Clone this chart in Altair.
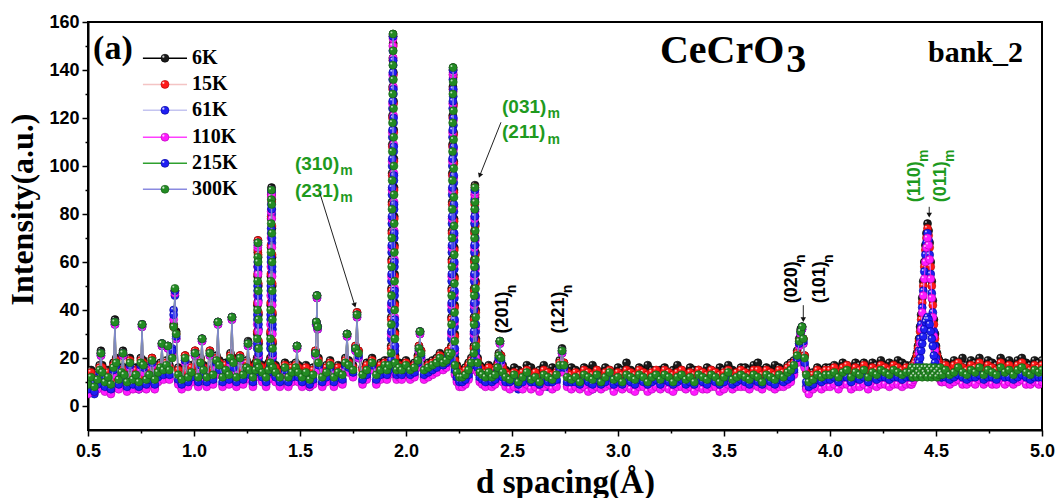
import altair as alt
import pandas as pd

# ---------------- data ----------------
D = [
    0.500, 0.515, 0.530, 0.545, 0.555, 0.561, 0.567, 0.580, 0.595, 0.608, 0.620, 0.627, 0.633, 0.645, 0.658, 0.665, 0.671, 0.684, 0.698,
    0.712, 0.726, 0.740, 0.749, 0.755, 0.761, 0.775, 0.789, 0.802, 0.815, 0.830, 0.842, 0.849, 0.856, 0.870, 0.877, 0.884, 0.897, 0.904, 0.910, 0.916, 0.926, 0.942, 0.958,
    0.972, 0.988, 1.005, 1.020, 1.031, 1.038, 1.045, 1.060, 1.075, 1.090, 1.106, 1.113, 1.120, 1.135, 1.150, 1.165, 1.172, 1.179, 1.186, 1.200, 1.217, 1.232, 1.248, 1.255, 1.262,
    1.278, 1.290,
    1.2976, 1.2984, 1.2992, 1.3000, 1.3008, 1.3016, 1.3024, 1.3032, 1.3040, 1.3048, 1.3056,
    1.322, 1.340, 1.352,
    1.3602, 1.3610, 1.3618, 1.3626, 1.3634, 1.3642, 1.3650, 1.3658, 1.3666, 1.3674, 1.3682, 1.3690, 1.3698, 1.3706, 1.3714,
    1.385, 1.405, 1.429, 1.445, 1.462, 1.480, 1.486, 1.492,
    1.510, 1.528, 1.546, 1.562, 1.573, 1.577, 1.580, 1.583, 1.587, 1.605, 1.625, 1.642, 1.660, 1.680, 1.700, 1.714, 1.722, 1.730, 1.750, 1.762, 1.769, 1.776, 1.795, 1.815, 1.840, 1.860, 1.880, 1.900,
    1.910, 1.920,
    1.9300, 1.9308, 1.9316, 1.9324, 1.9332, 1.9340, 1.9348, 1.9356, 1.9364, 1.9372, 1.9380, 1.9388,
    1.9396, 1.9404, 1.9412, 1.9420, 1.9428, 1.9436, 1.9444, 1.9452, 1.9460, 1.9468, 1.9476, 1.9484,
    1.956, 1.968, 1.980, 2.000, 2.020, 2.040, 2.056, 2.061, 2.066, 2.071, 2.085, 2.105, 2.125, 2.145, 2.160, 2.175, 2.190, 2.200,
    2.206,
    2.2140, 2.2148, 2.2156, 2.2164, 2.2172, 2.2180, 2.2188, 2.2196, 2.2204, 2.2212, 2.2220,
    2.2228, 2.2236, 2.2244, 2.2252, 2.2260, 2.2268, 2.2276, 2.2284, 2.2292, 2.2300, 2.2308,
    2.240, 2.252, 2.265, 2.280, 2.295, 2.308,
    2.3202, 2.3210, 2.3218, 2.3226, 2.3234, 2.3242, 2.3250,
    2.3258, 2.3266, 2.3274, 2.3282, 2.3290, 2.3298,
    2.338, 2.348, 2.360, 2.375, 2.390, 2.405, 2.420, 2.432, 2.438, 2.443, 2.448, 2.456, 2.470,
    2.490, 2.510, 2.530, 2.550, 2.570, 2.590, 2.610, 2.630, 2.650, 2.670, 2.690, 2.710, 2.725, 2.736, 2.745, 2.760, 2.780,
    2.80, 2.82, 2.84, 2.86, 2.88, 2.90, 2.92, 2.94, 2.96, 2.98, 3.00, 3.02, 3.04, 3.06, 3.08, 3.10, 3.12, 3.14, 3.16, 3.18,
    3.20, 3.22, 3.24, 3.26, 3.28, 3.30, 3.32, 3.34, 3.36, 3.38, 3.40, 3.42, 3.44, 3.46, 3.48, 3.50, 3.52, 3.54, 3.56, 3.58,
    3.60, 3.62, 3.64, 3.66, 3.68, 3.70, 3.72, 3.74, 3.76, 3.78,
    3.800, 3.815, 3.830, 3.845, 3.855, 3.862, 3.868, 3.874, 3.880, 3.888, 3.900, 3.920, 3.940, 3.960, 3.980,
    4.00, 4.02, 4.04, 4.06, 4.08, 4.10, 4.12, 4.14, 4.16, 4.18, 4.20, 4.22, 4.24, 4.26, 4.28, 4.30, 4.32, 4.34, 4.36,
    4.380, 4.385, 4.390, 4.395, 4.400, 4.405, 4.410, 4.415, 4.420, 4.425, 4.430, 4.435, 4.440, 4.445, 4.450, 4.455,
    4.460, 4.465, 4.470, 4.475, 4.480, 4.485, 4.490, 4.495, 4.500, 4.505, 4.510, 4.515, 4.520, 4.525, 4.530,
    4.545, 4.565, 4.585, 4.605, 4.625, 4.645, 4.665, 4.685, 4.705, 4.725, 4.745, 4.765, 4.785, 4.805, 4.825, 4.845, 4.865, 4.885, 4.905, 4.925, 4.945, 4.965, 4.985, 5.000,
]

I_6K = [
    12, 15, 11, 14, 17, 23, 17, 13, 15, 12, 18, 36, 20, 14, 16, 23, 16, 13, 20,
    14, 16, 13, 20, 34, 19, 14, 16, 20, 14, 17, 18, 26, 17, 19, 25, 17, 22, 34, 48, 31, 16, 14, 21,
    15, 17, 23, 15, 20, 28, 17, 15, 23, 16, 21, 35, 19, 15, 18, 16, 22, 37, 20, 15, 21, 16, 19, 27, 17,
    15, 18,
    20, 30, 42, 54, 64, 69, 62, 50, 38, 26, 18,
    17, 15, 18,
    20, 30, 42, 54, 66, 78, 88, 91, 86, 74, 62, 50, 38, 26, 18,
    17, 15, 18, 15, 17, 18, 25, 17,
    15, 17, 14, 16, 23, 35, 46, 33, 20, 15, 17, 19, 15, 17, 16, 20, 30, 19, 17, 25, 39, 23, 16, 18, 20, 16, 18, 19,
    18, 19,
    25, 37, 49, 61, 73, 85, 97, 109, 121, 133, 145, 155,
    151, 139, 127, 115, 103, 91, 79, 67, 55, 43, 31, 21,
    18, 18, 17, 19, 17, 18, 21, 25, 31, 23, 17, 18, 19, 20, 22, 20, 21, 23,
    23,
    25, 37, 49, 61, 73, 85, 97, 109, 121, 133, 141,
    138, 126, 114, 102, 90, 78, 66, 54, 42, 30, 20,
    17, 15, 15, 16, 18, 20,
    25, 37, 49, 61, 73, 85, 92,
    88, 76, 64, 52, 40, 28,
    20, 17, 16, 15, 17, 15, 16, 18, 22, 27, 21, 17, 15,
    14, 16, 15, 13, 17, 16, 14, 15, 17, 14, 16, 15, 19, 24, 18, 15, 16,
    15, 14, 16, 15, 17, 15, 14, 16, 15, 14, 16, 15, 18, 15, 14, 16, 15, 17, 15, 14,
    15, 16, 14, 15, 17, 15, 14, 16, 15, 15, 14, 16, 15, 14, 16, 15, 17, 15, 14, 16,
    16, 15, 17, 18, 15, 16, 15, 17, 16, 15,
    17, 18, 19, 23, 28, 32, 33, 28, 21, 15, 13, 14, 16, 15, 16,
    16, 17, 16, 18, 17, 16, 18, 17, 18, 16, 18, 17, 19, 17, 18, 17, 19, 18, 17,
    16, 17, 17, 18, 19, 20, 22, 25, 28, 33, 38, 45, 52, 60, 67, 72,
    76, 73, 68, 60, 52, 44, 36, 30, 25, 22, 20, 19, 18, 17, 17,
    18, 17, 19, 18, 20, 17, 19, 18, 20, 17, 19, 18, 17, 20, 18, 19, 17, 19, 20, 18, 17, 19, 18, 19,
]

I_15K = [
    11, 14, 10, 13, 16, 22, 16, 12, 14, 11, 17, 35, 19, 13, 15, 22, 15, 12, 19,
    13, 15, 12, 19, 34, 18, 13, 15, 20, 13, 16, 17, 26, 16, 18, 25, 16, 21, 33, 48, 30, 15, 13, 21,
    14, 16, 23, 14, 19, 28, 16, 14, 23, 15, 20, 35, 18, 14, 17, 15, 21, 37, 19, 14, 21, 15, 18, 26, 16,
    14, 17,
    19, 31, 43, 55, 65, 69, 63, 51, 39, 27, 17,
    16, 14, 17,
    19, 31, 43, 55, 67, 79, 88, 90, 85, 75, 63, 51, 39, 27, 17,
    16, 14, 17, 14, 16, 17, 25, 16,
    14, 16, 13, 15, 23, 35, 46, 33, 19, 14, 16, 18, 14, 16, 15, 19, 30, 18, 16, 25, 39, 23, 15, 17, 19, 15, 17, 18,
    17, 18,
    24, 36, 48, 60, 72, 84, 96, 108, 120, 132, 144, 154,
    150, 138, 126, 114, 102, 90, 78, 66, 54, 42, 30, 20,
    17, 17, 16, 18, 16, 17, 20, 25, 31, 23, 16, 17, 18, 19, 21, 19, 20, 23,
    22,
    24, 36, 48, 60, 72, 84, 96, 108, 120, 132, 140,
    137, 125, 113, 101, 89, 77, 65, 53, 41, 29, 19,
    16, 14, 14, 15, 17, 19,
    24, 36, 48, 60, 72, 84, 91,
    87, 75, 63, 51, 39, 27,
    19, 16, 15, 14, 16, 14, 15, 17, 21, 27, 21, 16, 14,
    13, 14, 13, 14, 15, 13, 14, 12, 15, 14, 13, 14, 18, 23, 18, 14, 13,
    14, 13, 15, 14, 13, 15, 12, 14, 15, 13, 14, 13, 15, 14, 13, 15, 14, 13, 14, 15,
    13, 15, 14, 13, 14, 15, 13, 14, 13, 15, 14, 13, 15, 14, 13, 14, 15, 13, 14, 15,
    14, 13, 15, 15, 13, 15, 14, 13, 15, 14,
    16, 17, 18, 22, 27, 31, 33, 28, 21, 14, 12, 13, 15, 14, 15,
    15, 16, 14, 16, 17, 14, 16, 15, 17, 14, 16, 15, 17, 16, 15, 17, 16, 15, 16,
    15, 16, 16, 17, 18, 19, 21, 24, 27, 31, 36, 43, 50, 58, 65, 70,
    74, 71, 66, 58, 50, 42, 34, 28, 24, 21, 19, 18, 17, 16, 16,
    17, 15, 17, 18, 16, 15, 17, 16, 18, 15, 17, 16, 15, 18, 16, 17, 15, 17, 18, 16, 15, 17, 16, 17,
]

I_61K = [
    6, 9, 5, 8, 13, 21, 11, 7, 9, 6, 14, 34, 15, 8, 12, 21, 10, 7, 16,
    8, 10, 7, 16, 33, 15, 8, 10, 18, 8, 11, 14, 25, 12, 15, 24, 12, 24, 40, 46, 28, 10, 8, 19,
    9, 11, 21, 9, 16, 27, 12, 9, 21, 10, 17, 34, 14, 9, 12, 10, 18, 36, 15, 9, 19, 10, 13, 25, 12,
    9, 13,
    15, 24, 36, 48, 58, 67, 56, 44, 32, 20, 13,
    11, 9, 12,
    15, 24, 36, 48, 60, 72, 82, 89, 80, 68, 56, 44, 32, 20, 13,
    11, 9, 14, 9, 11, 14, 24, 11,
    9, 11, 8, 10, 21, 34, 45, 32, 16, 9, 11, 15, 9, 11, 10, 16, 29, 15, 13, 23, 37, 20, 10, 12, 16, 10, 12, 15,
    12, 14,
    28, 40, 52, 64, 76, 88, 100, 112, 124, 136, 148, 154,
    142, 130, 118, 106, 94, 82, 70, 58, 46, 34, 23, 15,
    12, 13, 12, 14, 12, 13, 17, 23, 30, 20, 12, 13, 14, 15, 18, 16, 17, 20,
    19,
    28, 40, 52, 64, 76, 88, 100, 112, 124, 136, 140,
    129, 117, 105, 93, 81, 69, 57, 45, 33, 22, 14,
    11, 9, 9, 10, 12, 16,
    28, 40, 52, 64, 76, 86, 90,
    79, 67, 55, 43, 31, 21,
    15, 11, 10, 9, 11, 9, 10, 14, 20, 26, 18, 11, 9,
    8, 9, 7, 9, 10, 8, 9, 7, 9, 8, 8, 10, 15, 22, 15, 9, 8,
    9, 8, 9, 8, 7, 9, 8, 9, 10, 7, 9, 8, 9, 8, 7, 9, 9, 7, 8, 9,
    8, 9, 8, 7, 9, 9, 8, 9, 7, 9, 8, 8, 9, 9, 7, 8, 10, 8, 9, 9,
    9, 8, 10, 9, 8, 10, 9, 8, 9, 9,
    10, 11, 14, 19, 26, 30, 32, 26, 17, 8, 6, 8, 9, 8, 9,
    9, 10, 8, 10, 10, 8, 9, 9, 10, 8, 10, 9, 10, 10, 9, 10, 10, 9, 10,
    10, 10, 11, 12, 13, 14, 16, 19, 23, 28, 34, 41, 48, 56, 63, 68,
    72, 69, 63, 55, 47, 39, 31, 25, 20, 16, 14, 13, 12, 11, 11,
    11, 10, 11, 12, 10, 10, 11, 10, 12, 10, 11, 10, 10, 12, 10, 11, 10, 11, 12, 10, 10, 11, 10, 11,
]

I_110K = [
    5, 8, 6, 7, 12, 21, 10, 6, 8, 5, 13, 34, 15, 7, 11, 21, 9, 6, 16,
    7, 9, 7, 15, 33, 14, 7, 9, 17, 7, 10, 13, 25, 11, 14, 24, 11, 22, 36, 47, 28, 9, 7, 18,
    8, 10, 21, 8, 15, 27, 11, 8, 21, 9, 16, 34, 13, 8, 11, 9, 17, 36, 14, 8, 19, 9, 12, 25, 11,
    8, 12,
    16, 34, 46, 58, 66, 67, 55, 43, 31, 21, 14,
    10, 8, 11,
    16, 34, 46, 58, 70, 81, 87, 88, 78, 66, 54, 42, 30, 21, 14,
    10, 8, 13, 8, 10, 13, 24, 10,
    8, 10, 8, 9, 21, 34, 45, 32, 15, 8, 10, 14, 8, 10, 9, 15, 29, 14, 12, 23, 37, 20, 9, 11, 15, 9, 11, 14,
    11, 13,
    30, 42, 54, 66, 78, 90, 102, 114, 126, 138, 150, 153,
    145, 133, 121, 109, 97, 85, 73, 61, 49, 37, 25, 14,
    11, 12, 11, 13, 11, 12, 16, 23, 30, 20, 11, 12, 13, 14, 17, 15, 16, 20,
    18,
    30, 42, 54, 66, 78, 90, 102, 114, 126, 138, 139,
    131, 119, 107, 95, 83, 71, 59, 47, 35, 23, 13,
    10, 8, 8, 9, 11, 15,
    30, 42, 54, 66, 78, 88, 89,
    81, 69, 57, 45, 33, 20,
    14, 10, 9, 8, 10, 8, 9, 13, 19, 26, 18, 10, 8,
    7, 8, 8, 7, 9, 7, 8, 6, 8, 9, 7, 8, 14, 22, 14, 8, 7,
    8, 7, 8, 6, 7, 8, 7, 8, 9, 6, 8, 7, 8, 7, 6, 8, 8, 6, 7, 8,
    7, 8, 7, 6, 8, 8, 7, 8, 6, 8, 7, 7, 8, 8, 6, 7, 9, 7, 8, 8,
    8, 7, 9, 8, 7, 9, 8, 7, 8, 8,
    9, 10, 13, 18, 25, 30, 32, 26, 16, 7, 5, 7, 8, 7, 8,
    8, 9, 7, 9, 9, 7, 8, 8, 9, 7, 9, 8, 9, 9, 8, 9, 9, 8, 9,
    9, 9, 10, 11, 12, 13, 15, 18, 22, 26, 32, 39, 46, 53, 60, 66,
    70, 67, 61, 53, 45, 37, 29, 23, 18, 15, 13, 12, 11, 10, 10,
    10, 9, 10, 11, 9, 9, 10, 9, 11, 9, 10, 9, 9, 11, 9, 10, 9, 10, 11, 9, 9, 10, 9, 10,
]

I_215K = [
    7, 10, 6, 9, 14, 22, 12, 8, 10, 7, 15, 35, 17, 9, 13, 22, 11, 8, 17,
    9, 11, 8, 17, 34, 16, 9, 11, 18, 9, 12, 15, 26, 13, 16, 25, 13, 23, 38, 48, 29, 11, 9, 19,
    10, 12, 22, 10, 17, 28, 13, 10, 22, 11, 18, 35, 15, 10, 13, 11, 19, 37, 16, 10, 20, 11, 14, 26, 13,
    10, 14,
    17, 26, 38, 50, 60, 68, 58, 46, 34, 22, 15,
    12, 10, 14,
    17, 26, 38, 50, 62, 74, 84, 90, 82, 70, 58, 46, 34, 22, 15,
    12, 10, 15, 10, 12, 15, 25, 12,
    10, 12, 9, 11, 22, 35, 46, 33, 17, 10, 12, 16, 10, 12, 11, 17, 30, 16, 14, 24, 38, 21, 11, 13, 17, 11, 13, 16,
    13, 15,
    19, 31, 43, 55, 67, 79, 91, 103, 115, 127, 139, 154,
    144, 132, 120, 108, 96, 84, 72, 60, 48, 36, 25, 16,
    13, 14, 13, 15, 13, 14, 18, 24, 31, 21, 13, 14, 15, 16, 19, 17, 18, 21,
    20,
    19, 31, 43, 55, 67, 79, 91, 103, 115, 127, 140,
    132, 120, 108, 96, 84, 72, 60, 48, 36, 24, 15,
    12, 10, 10, 11, 13, 17,
    19, 31, 43, 55, 67, 79, 90,
    82, 70, 58, 46, 34, 23,
    16, 12, 11, 10, 12, 10, 11, 15, 20, 27, 19, 12, 10,
    10, 11, 9, 10, 12, 10, 10, 9, 11, 10, 10, 11, 16, 23, 16, 10, 10,
    10, 9, 11, 10, 9, 11, 9, 10, 12, 9, 10, 9, 11, 10, 9, 11, 10, 9, 10, 11,
    9, 11, 10, 9, 10, 11, 9, 10, 9, 11, 10, 9, 11, 10, 9, 10, 12, 9, 10, 11,
    10, 9, 11, 10, 9, 11, 10, 9, 11, 10,
    11, 12, 15, 20, 26, 31, 33, 27, 18, 10, 8, 9, 11, 10, 11,
    11, 12, 10, 12, 12, 10, 12, 11, 12, 10, 12, 11, 12, 12, 11, 12, 12, 11, 12,
    12, 12, 12, 13, 13, 14, 15, 16, 18, 20, 23, 26, 29, 32, 35, 36,
    37, 36, 34, 31, 28, 25, 21, 18, 16, 14, 13, 13, 12, 12, 12,
    12, 11, 12, 13, 12, 11, 12, 12, 13, 11, 12, 12, 11, 13, 12, 12, 11, 12, 13, 12, 11, 12, 12, 12,
]

I_300K = [
    9, 12, 8, 11, 15, 22, 14, 10, 12, 9, 16, 35, 18, 11, 14, 22, 13, 10, 18,
    11, 13, 10, 18, 34, 17, 11, 13, 19, 11, 14, 16, 26, 15, 17, 25, 15, 20, 33, 49, 30, 13, 11, 20,
    12, 14, 22, 12, 18, 28, 15, 12, 22, 13, 19, 35, 17, 12, 15, 13, 20, 37, 18, 12, 20, 13, 16, 26, 15,
    12, 15,
    18, 28, 40, 52, 62, 68, 60, 48, 36, 24, 16,
    14, 12, 15,
    18, 28, 40, 52, 64, 76, 86, 90, 84, 72, 60, 48, 36, 24, 16,
    14, 12, 16, 12, 14, 16, 25, 14,
    12, 14, 11, 13, 22, 35, 46, 33, 18, 12, 14, 17, 12, 14, 13, 18, 30, 17, 15, 24, 38, 22, 13, 15, 18, 13, 15, 17,
    15, 17,
    22, 34, 46, 58, 70, 82, 94, 106, 118, 130, 142, 155,
    148, 136, 124, 112, 100, 88, 76, 64, 52, 40, 28, 18,
    15, 16, 15, 17, 15, 16, 19, 24, 31, 22, 15, 16, 17, 18, 20, 18, 19, 22,
    21,
    22, 34, 46, 58, 70, 82, 94, 106, 118, 130, 141,
    135, 123, 111, 99, 87, 75, 63, 51, 39, 27, 17,
    14, 12, 12, 13, 15, 18,
    22, 34, 46, 58, 70, 82, 91,
    85, 73, 61, 49, 37, 25,
    18, 14, 13, 12, 14, 12, 13, 16, 21, 27, 20, 14, 12,
    11, 13, 10, 12, 14, 11, 12, 10, 13, 12, 11, 13, 17, 23, 17, 12, 11,
    12, 10, 13, 12, 11, 13, 10, 12, 14, 11, 12, 10, 13, 12, 11, 13, 12, 10, 12, 13,
    11, 13, 12, 10, 12, 13, 11, 12, 10, 13, 12, 11, 13, 12, 10, 12, 14, 11, 12, 13,
    12, 11, 13, 12, 10, 13, 12, 11, 13, 12,
    14, 15, 17, 21, 27, 31, 33, 28, 20, 13, 10, 11, 13, 12, 13,
    13, 14, 12, 14, 15, 12, 14, 13, 15, 12, 14, 13, 15, 14, 13, 15, 14, 13, 14,
    14, 16, 12, 15, 13, 16, 12, 14, 16, 13, 15, 12, 16, 14, 13, 16,
    12, 15, 14, 16, 12, 15, 13, 16, 14, 12, 15, 13, 16, 14, 13,
    15, 13, 14, 16, 14, 13, 15, 14, 16, 13, 15, 14, 13, 16, 14, 15, 13, 15, 16, 14, 13, 15, 14, 15,
]

SERIES = ["6K", "15K", "61K", "110K", "215K", "300K"]
INTENSITIES = [I_6K, I_15K, I_61K, I_110K, I_215K, I_300K]
MARKER_FILL = ["#1a1a1a", "#ff1a1a", "#1f1ff2", "#ff1aff", "#1f1ff2", "#238b23"]
MARKER_EDGE = ["#000000", "#b00000", "#00009a", "#b000b0", "#00009a", "#145a14"]
LINE_COLOR = ["#000000", "#f4c4c4", "#c4c4f0", "#ff40ff", "#2ea02e", "#8a8ae0"]

for name, arr in zip(SERIES, INTENSITIES):
    assert len(arr) == len(D), f"{name}: {len(arr)} vs {len(D)}"

X_DOMAIN = [0.5, 5.0]
Y_DOMAIN = [-10, 160]
X_TICKS = [0.5, 0.75, 1.0, 1.25, 1.5, 1.75, 2.0, 2.25, 2.5, 2.75, 3.0, 3.25, 3.5, 3.75, 4.0, 4.25, 4.5, 4.75, 5.0]
Y_TICKS = [0, 10, 20, 30, 40, 50, 60, 70, 80, 90, 100, 110, 120, 130, 140, 150, 160]

# legend (placed in data coordinates)
LEG_LABELS = SERIES
LEG_I = [144.9, 134.0, 123.2, 112.0, 101.1, 90.3]
LEG_LINE_D = [0.759, 0.967]
LEG_MARK_D = 0.863
LEG_TEXT_D = 0.99

# text annotations
H_TEXT = ["(310)", "(231)", "(031)", "(211)"]
H_D = [1.476, 1.476, 2.453, 2.453]
H_I = [101.0, 89.5, 124.5, 114.0]
H_SUB_D = [1.690, 1.690, 2.667, 2.667]
H_SUB_I = [98.0, 86.5, 121.5, 111.0]

V_TEXT = ["(201)", "(121)", "(020)", "(101)", "(110)", "(011)"]
V_COLOR = ["black", "black", "black", "black", "#1e9a1e", "#1e9a1e"]
V_D = [2.458, 2.724, 3.821, 3.953, 4.401, 4.524]
V_I = [30.2, 30.2, 42.8, 42.8, 84.9, 84.9]
V_SUB = ["n", "n", "n", "n", "m", "m"]
V_SUB_D = [2.500, 2.766, 3.863, 3.995, 4.443, 4.566]
V_SUB_I = [47.0, 47.0, 59.6, 59.6, 101.7, 101.7]

ARROW_D0 = [1.594, 2.448, 3.874, 4.468]
ARROW_I0 = [88.6, 118.2, 42.0, 83.0]
ARROW_D1 = [1.758, 2.348, 3.874, 4.468]
ARROW_I1 = [42.0, 96.0, 36.0, 79.5]
ARROW_ANGLE = [343, 21, 0, 0]

LABELS_SERIF = ["(a)", "CeCrO", "3", "bank_2"]
LABELS_SERIF_D = [0.524, 3.198, 3.794, 4.462]
LABELS_SERIF_I = [144.5, 142.8, 139.0, 143.2]
LABELS_SERIF_SIZE = [34, 40, 40, 30]

# ---------------- chart ----------------
xs = alt.Scale(domain=X_DOMAIN, nice=False, zero=False)
ys = alt.Scale(domain=Y_DOMAIN, nice=False, zero=False)

x_axis = alt.Axis(
    values=X_TICKS,
    labelExpr="round(datum.value*4) % 2 == 0 ? format(datum.value, '.1f') : ''",
    tickSize={"condition": {"test": "round(datum.value*4) % 2 == 0", "value": 6}, "value": 3},
    tickColor="black", tickWidth=1.5, domainColor="black", domainWidth=2,
    labelFont="Liberation Sans", labelFontWeight="bold", labelFontSize=18, labelColor="black",
    labelPadding=6, grid=False, labelFlush=False, labelOverlap=False,
    title="d spacing(Å)", titleFont="Liberation Serif", titleFontWeight="bold", titleFontSize=33,
    titleColor="black", titleY=62, titleBaseline="alphabetic",
)
y_axis = alt.Axis(
    values=Y_TICKS,
    labelExpr="datum.value % 20 == 0 ? format(datum.value, 'd') : ''",
    tickSize={"condition": {"test": "datum.value % 20 == 0", "value": 6}, "value": 3},
    tickColor="black", tickWidth=1.5, domainColor="black", domainWidth=2,
    labelFont="Liberation Sans", labelFontWeight="bold", labelFontSize=18, labelColor="black",
    labelPadding=3, grid=False, labelFlush=False, labelOverlap=False,
    title="Intensity(a.u.)", titleFont="Liberation Serif", titleFontWeight="bold", titleFontSize=32,
    titleColor="black", titleX=-66, titleY=187, titleAngle=270, titleAlign="center", titleBaseline="middle",
)


def ex(field):
    return alt.X(field, type="quantitative", scale=xs, axis=x_axis)


def ey(field):
    return alt.Y(field, type="quantitative", scale=ys, axis=y_axis)


layers = []
for i, name in enumerate(SERIES):
    df = pd.DataFrame({"d": D, "I": INTENSITIES[i]})
    base = alt.Chart(df)
    layers.append(base.mark_line(color=LINE_COLOR[i], strokeWidth=0.9, clip=True).encode(x=ex("d"), y=ey("I")))
    layers.append(base.mark_circle(size=64, fill=MARKER_FILL[i], stroke=MARKER_EDGE[i], strokeWidth=0.6,
                                   opacity=1, clip=True).encode(x=ex("d"), y=ey("I")))
    layers.append(base.mark_circle(size=4, fill="white", opacity=0.7, xOffset=-1.6, yOffset=-1.6,
                                   clip=True).encode(x=ex("d"), y=ey("I")))

# legend
leg = pd.DataFrame({
    "label": LEG_LABELS, "I": LEG_I,
    "x1": [LEG_LINE_D[0]] * 6, "x2": [LEG_LINE_D[1]] * 6,
    "xm": [LEG_MARK_D] * 6, "xt": [LEG_TEXT_D] * 6,
    "lc": LINE_COLOR, "mf": MARKER_FILL, "me": MARKER_EDGE,
})
lb = alt.Chart(leg)
layers.append(lb.mark_rule(strokeWidth=1.5).encode(
    x=ex("x1"), x2="x2:Q", y=ey("I"), color=alt.Color("lc:N", scale=None)))
layers.append(lb.mark_circle(size=64, strokeWidth=0.6, opacity=1).encode(
    x=ex("xm"), y=ey("I"), fill=alt.Fill("mf:N", scale=None), stroke=alt.Stroke("me:N", scale=None)))
layers.append(lb.mark_circle(size=5, fill="white", opacity=0.8, xOffset=-1.6, yOffset=-1.6).encode(
    x=ex("xm"), y=ey("I")))
layers.append(lb.mark_text(align="left", baseline="middle", font="Liberation Serif", fontWeight="bold",
                           fontSize=20, color="black").encode(x=ex("xt"), y=ey("I"), text="label:N"))

# serif labels
for t, dd, ii, sz in zip(LABELS_SERIF, LABELS_SERIF_D, LABELS_SERIF_I, LABELS_SERIF_SIZE):
    dft = pd.DataFrame({"t": [t], "d": [dd], "I": [ii]})
    layers.append(alt.Chart(dft).mark_text(align="left", baseline="alphabetic", font="Liberation Serif",
                                           fontWeight="bold", fontSize=sz, color="black").encode(
        x=ex("d"), y=ey("I"), text="t:N"))

# horizontal green hkl labels
hdf = pd.DataFrame({"t": H_TEXT, "d": H_D, "I": H_I, "sd": H_SUB_D, "si": H_SUB_I, "s": ["m"] * 4})
hb = alt.Chart(hdf)
layers.append(hb.mark_text(align="left", baseline="middle", font="Liberation Sans", fontWeight="bold",
                           fontSize=19, color="#1e9a1e").encode(x=ex("d"), y=ey("I"), text="t:N"))
layers.append(hb.mark_text(align="left", baseline="middle", font="Liberation Sans", fontWeight="bold",
                           fontSize=14, color="#1e9a1e").encode(x=ex("sd"), y=ey("si"), text="s:N"))

# vertical hkl labels
vdf = pd.DataFrame({"t": V_TEXT, "c": V_COLOR, "d": V_D, "I": V_I, "s": V_SUB, "sd": V_SUB_D, "si": V_SUB_I})
vb = alt.Chart(vdf)
layers.append(vb.mark_text(align="left", baseline="middle", font="Liberation Sans", fontWeight="bold",
                           fontSize=18, angle=270).encode(
    x=ex("d"), y=ey("I"), text="t:N", color=alt.Color("c:N", scale=None)))
layers.append(vb.mark_text(align="left", baseline="middle", font="Liberation Sans", fontWeight="bold",
                           fontSize=14, angle=270).encode(
    x=ex("sd"), y=ey("si"), text="s:N", color=alt.Color("c:N", scale=None)))

# arrows
adf = pd.DataFrame({"d0": ARROW_D0, "i0": ARROW_I0, "d1": ARROW_D1, "i1": ARROW_I1, "a": ARROW_ANGLE})
ab = alt.Chart(adf)
layers.append(ab.mark_rule(strokeWidth=1, color="#222222").encode(
    x=ex("d0"), y=ey("i0"), x2="d1:Q", y2="i1:Q"))
layers.append(ab.mark_point(shape="triangle-down", filled=True, size=30, color="#111111", opacity=1).encode(
    x=ex("d1"), y=ey("i1"), angle=alt.Angle("a:Q", scale=None)))

chart = alt.layer(*layers).properties(
    width=954, height=408,
    autosize=alt.AutoSizeParams(type="none"),
    padding={"left": 88, "top": 22, "right": 15, "bottom": 68},
    background="white",
).configure_view(stroke="black", strokeWidth=2)

chart.save("out.html", embed_options={"renderer": "svg", "actions": False})
